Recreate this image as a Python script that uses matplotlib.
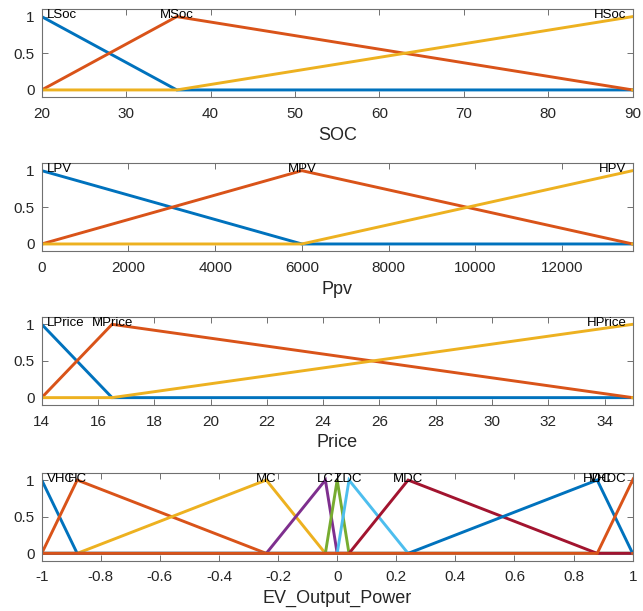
import numpy as np
import matplotlib
matplotlib.use("Agg")
import matplotlib.pyplot as plt
from matplotlib.ticker import FuncFormatter

plt.rcParams['font.family'] = ['Liberation Sans', 'DejaVu Sans']

# MATLAB default colour order
colors = ['#0072BD', '#D95319', '#EDB120', '#7E2F8E', '#77AC30', '#4DBEEE', '#A2142F']

# membership functions (triangular: a, b, c)
soc_range = [20, 90]
soc_names = ['LSoc', 'MSoc', 'HSoc']
soc_params = [[4, 20, 36], [20, 36, 90], [36, 90, 144]]
soc_ticks = np.arange(20, 91, 10)

ppv_range = [0, 13630]
ppv_names = ['LPV', 'MPV', 'HPV']
ppv_params = [[-6000, 0, 6000], [0, 6000, 13630], [6000, 13630, 21260]]
ppv_ticks = np.arange(0, 12001, 2000)

price_range = [14, 35]
price_names = ['LPrice', 'MPrice', 'HPrice']
price_params = [[11.5, 14, 16.5], [14, 16.5, 35], [16.5, 35, 53.5]]
price_ticks = np.arange(14, 35, 2)

ev_range = [-1, 1]
ev_names = ['VHC', 'HC', 'MC', 'LC', 'Z', 'LDC', 'MDC', 'HDC', 'VHDC']
ev_params = [[-1.12, -1, -0.88], [-1, -0.88, -0.24], [-0.88, -0.24, -0.04],
             [-0.24, -0.04, 0], [-0.04, 0, 0.04], [0, 0.04, 0.24],
             [0.04, 0.24, 0.88], [0.24, 0.88, 1], [0.88, 1, 1.12]]
ev_ticks = np.round(np.arange(-1, 1.01, 0.2), 1)

panels = [
    ('SOC', soc_range, soc_names, soc_params, soc_ticks),
    ('Ppv', ppv_range, ppv_names, ppv_params, ppv_ticks),
    ('Price', price_range, price_names, price_params, price_ticks),
    ('EV_Output_Power', ev_range, ev_names, ev_params, ev_ticks),
]

fig = plt.figure(figsize=(6.43, 6.11), dpi=100)
bottoms = [0.8408, 0.5887, 0.3372, 0.0823]
frame_col = '#707070'
text_col = '#262626'

for (label, rng, names, params, ticks), bot in zip(panels, bottoms):
    ax = fig.add_axes([0.0649, bot, 0.919, 0.144])
    lo, hi = rng
    for i, (name, (a, b, c)) in enumerate(zip(names, params)):
        col = colors[i % len(colors)]
        ax.plot([lo, a, b, c, hi], [0, 0, 1, 0, 0], color=col, lw=2.1,
                solid_joinstyle='miter', clip_on=True)
    # names at the peaks, kept inside the box at the ends
    for i, (name, (a, b, c)) in enumerate(zip(names, params)):
        if b <= lo:
            ax.annotate(name, (lo, 0.98), xytext=(3.6, 0), textcoords='offset points',
                        ha='left', va='baseline', fontsize=9.5, color='black')
        elif b >= hi:
            ax.annotate(name, (hi, 0.98), xytext=(-4.3, 0), textcoords='offset points',
                        ha='right', va='baseline', fontsize=9.5, color='black')
        else:
            ax.text(b, 0.98, name, ha='center', va='baseline', fontsize=9.5, color='black')
    ax.set_xlim(lo, hi)
    ax.set_ylim(-0.1, 1.1)
    ax.set_xticks(ticks)
    ax.set_yticks([0, 0.5, 1])
    ax.xaxis.set_major_formatter(FuncFormatter(lambda v, p: '%g' % v if abs(v) > 1e-9 else '0'))
    ax.yaxis.set_major_formatter(FuncFormatter(lambda v, p: '%g' % v))
    ax.tick_params(direction='in', length=4, width=0.7, color=frame_col,
                   top=True, right=True, labelsize=11, labelcolor=text_col)
    ax.tick_params(axis='x', pad=7)
    ax.tick_params(axis='y', pad=5)
    for s in ax.spines.values():
        s.set_color(frame_col)
        s.set_linewidth(0.8)
    ax.set_xlabel(label, fontsize=13, color=text_col, labelpad=4)

fig.savefig('out.png', dpi=100)
